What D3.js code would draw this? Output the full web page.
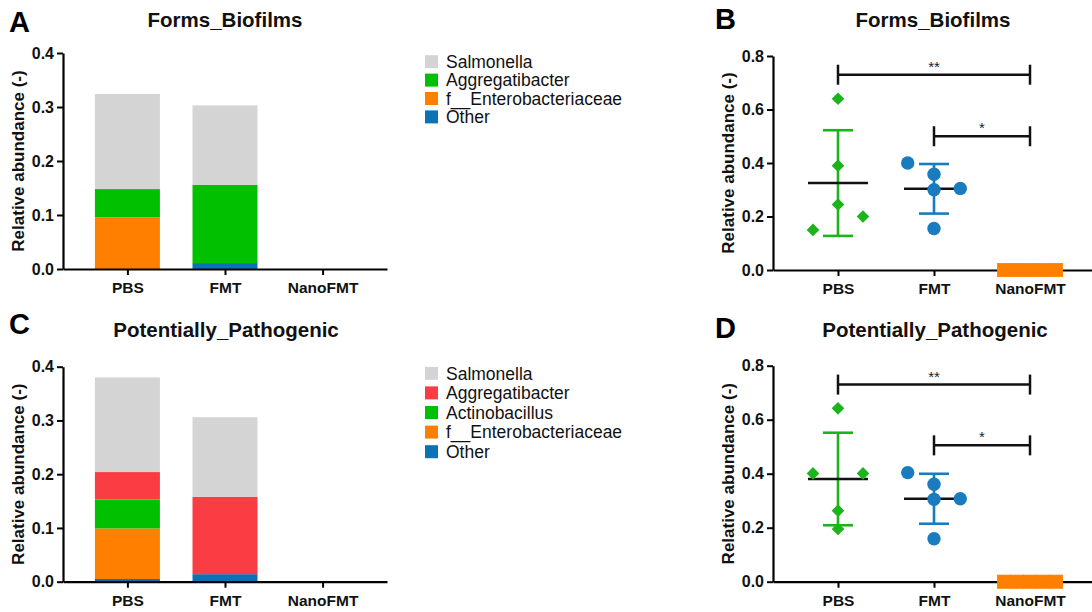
<!DOCTYPE html>
<html>
<head>
<meta charset="utf-8">
<script src="https://cdn.jsdelivr.net/npm/d3@7"></script>
<style>
  body { margin: 0; background: #fff; }
  svg { display: block; font-family: "Liberation Sans", Arial, sans-serif; }
</style>
</head>
<body>
<svg id="chart" width="1092" height="612"></svg>
<script>
const groups = ['PBS', 'FMT', 'NanoFMT'];

// Panel A - Forms_Biofilms, stacked mean abundance
const taxaA = ['Other', 'f__Enterobacteriaceae', 'Aggregatibacter', 'Salmonella'];
const aOther = [0, 0.011, 0];
const aEntero = [0.096, 0, 0];
const aAggregatibacter = [0.052, 0.145, 0];
const aSalmonella = [0.176, 0.147, 0];

// Panel C - Potentially_Pathogenic, stacked mean abundance
const taxaC = ['Other', 'f__Enterobacteriaceae', 'Actinobacillus', 'Aggregatibacter', 'Salmonella'];
const cOther = [0.005, 0.014, 0];
const cEntero = [0.094, 0, 0];
const cActinobacillus = [0.054, 0, 0];
const cAggregatibacter = [0.051, 0.144, 0];
const cSalmonella = [0.176, 0.148, 0];

// Panel B - Forms_Biofilms, per-sample values
const bPBS = [0.64, 0.39, 0.245, 0.20, 0.15];
const bFMT = [0.40, 0.358, 0.30, 0.305, 0.155];
const bNano = [0, 0, 0, 0, 0];

// Panel D - Potentially_Pathogenic, per-sample values
const dPBS = [0.642, 0.401, 0.401, 0.263, 0.195];
const dFMT = [0.404, 0.361, 0.305, 0.307, 0.159];
const dNano = [0, 0, 0, 0, 0];

// side-by-side spread of overlapping points (slot index)
const bSlotsPBS = [0, 0, 0, 1, -1];
const dSlotsPBS = [0, -1, 1, 0, 0];
const slotsFMT = [-1, 0, 0, 1, 0];
const slotsNano = [-2, -1, 0, 1, 2];

// significance brackets
const sigFrom = ['PBS', 'FMT'];
const sigTo = ['NanoFMT', 'NanoFMT'];
const sigLabels = ['**', '*'];
const bSigLevels = [0.73, 0.5];
const dSigLevels = [0.73, 0.505];

const ticksStack = [0, 0.1, 0.2, 0.3, 0.4];
const ticksDots = [0, 0.2, 0.4, 0.6, 0.8];

const taxColorsA = {
  'Salmonella': '#d4d4d4', 'Aggregatibacter': '#00c000',
  'f__Enterobacteriaceae': '#ff8000', 'Other': '#0c72b6'
};
const taxColorsC = {
  'Salmonella': '#d4d4d4', 'Aggregatibacter': '#fa3d43', 'Actinobacillus': '#00c000',
  'f__Enterobacteriaceae': '#ff8000', 'Other': '#0c72b6'
};
const groupColors = { PBS: '#1cb41c', FMT: '#1a7bbf', NanoFMT: '#ff8000' };

const FONT = '"Liberation Sans", Arial, sans-serif';
const svg = d3.select('#chart');

function styleAxis(g) {
  g.attr('font-family', FONT).attr('font-size', 16).attr('font-weight', 'bold');
  g.select('.domain').attr('stroke', '#000').attr('stroke-width', 2.2);
  g.selectAll('.tick line').attr('stroke', '#000').attr('stroke-width', 2);
  g.selectAll('.tick text').attr('fill', '#111');
}

function drawAxes(x, y, tickVals, xLeft) {
  const y0 = y(0);
  svg.append('g')
    .attr('transform', `translate(0,${y0})`)
    .call(d3.axisBottom(x).tickSize(6).tickSizeOuter(0))
    .call(styleAxis)
    .call(g => g.selectAll('.tick text').attr('y', 13).attr('font-size', 15.5));

  svg.append('g')
    .attr('transform', `translate(${xLeft},0)`)
    .call(d3.axisLeft(y).tickValues(tickVals).tickFormat(d3.format('.1f')).tickSize(6).tickSizeOuter(0))
    .call(styleAxis);

  const yMid = (y.range()[0] + y.range()[1]) / 2;
  svg.append('text')
    .attr('transform', `translate(${xLeft - 39},${yMid}) rotate(-90)`)
    .attr('text-anchor', 'middle')
    .attr('font-size', 17).attr('font-weight', 'bold').attr('fill', '#111')
    .text('Relative abundance (-)');
}

function drawHeader(letter, lx, ly, title, tx, ty) {
  svg.append('text').attr('x', lx).attr('y', ly)
    .attr('font-size', 29).attr('font-weight', 'bold').attr('fill', '#000')
    .text(letter);
  svg.append('text').attr('x', tx).attr('y', ty)
    .attr('text-anchor', 'middle')
    .attr('font-size', 20.5).attr('font-weight', 'bold').attr('fill', '#111')
    .text(title);
}

function drawStack(opts) {
  const x = d3.scalePoint().domain(groups).range(opts.xRange).padding(0.66);
  const y = d3.scaleLinear().domain([0, 0.4]).range(opts.yRange);
  const rows = groups.map((g, i) => {
    const r = { group: g };
    opts.taxa.forEach(t => { r[t] = opts.values[t][i]; });
    return r;
  });
  const series = d3.stack().keys(opts.taxa)(rows);
  const barW = 65;

  series.forEach(s => {
    svg.append('g').attr('fill', opts.colors[s.key])
      .selectAll('rect')
      .data(s)
      .join('rect')
      .attr('x', d => x(d.data.group) - barW / 2)
      .attr('y', d => y(d[1]))
      .attr('width', barW)
      .attr('height', d => Math.max(0, y(d[0]) - y(d[1])));
  });

  drawAxes(x, y, ticksStack, opts.xRange[0]);

  // legend, top entry = top of stack
  const legendTaxa = opts.taxa.slice().reverse();
  const lg = svg.append('g');
  legendTaxa.forEach((t, i) => {
    const cy = opts.legendTop + i * opts.legendStep;
    lg.append('rect').attr('x', 425).attr('y', cy - 6.5)
      .attr('width', 13).attr('height', 13).attr('fill', opts.colors[t]);
    lg.append('text').attr('x', 446).attr('y', cy + 6.3)
      .attr('font-size', 17.5).attr('fill', '#111')
      .text(t);
  });
}

function drawDots(opts) {
  const x = d3.scalePoint().domain(groups).range(opts.xRange).padding(0.677);
  const y = d3.scaleLinear().domain([0, 0.8]).range(opts.yRange);

  drawAxes(x, y, ticksDots, opts.xRange[0]);

  // significance brackets
  sigLabels.forEach((lab, i) => {
    const x1 = x(sigFrom[i]), x2 = x(sigTo[i]), yy = y(opts.sigLevels[i]);
    const g = svg.append('g').attr('stroke', '#111').attr('stroke-width', 2.5);
    g.append('line').attr('x1', x1).attr('x2', x2).attr('y1', yy).attr('y2', yy);
    g.append('line').attr('x1', x1).attr('x2', x1).attr('y1', yy - 10).attr('y2', yy + 10);
    g.append('line').attr('x1', x2).attr('x2', x2).attr('y1', yy - 10).attr('y2', yy + 10);
    svg.append('text').attr('x', (x1 + x2) / 2).attr('y', yy - 3)
      .attr('text-anchor', 'middle').attr('font-size', 15).attr('fill', '#222')
      .text(lab);
  });

  groups.forEach((grp, gi) => {
    const vals = opts.values[gi];
    const cx = x(grp);
    const col = groupColors[grp];
    const m = d3.mean(vals);
    const sd = d3.deviation(vals);

    // mean ± SD
    if (sd > 0) {
      const e = svg.append('g').attr('stroke', col).attr('stroke-width', 2.6);
      e.append('line').attr('x1', cx).attr('x2', cx).attr('y1', y(m + sd)).attr('y2', y(m - sd));
      e.append('line').attr('x1', cx - 15).attr('x2', cx + 15).attr('y1', y(m + sd)).attr('y2', y(m + sd));
      e.append('line').attr('x1', cx - 15).attr('x2', cx + 15).attr('y1', y(m - sd)).attr('y2', y(m - sd));
    }
    svg.append('line').attr('x1', cx - 30).attr('x2', cx + 30)
      .attr('y1', y(m)).attr('y2', y(m))
      .attr('stroke', '#111').attr('stroke-width', 2.6);

    const slots = opts.slots[gi];
    const pts = svg.append('g').attr('fill', col);
    vals.forEach((v, i) => {
      const px = cx + slots[i] * opts.slotW[gi];
      const py = y(v);
      if (grp === 'PBS') {
        pts.append('path')
          .attr('d', d3.symbol(d3.symbolSquare, 80)())
          .attr('transform', `translate(${px},${py}) rotate(45)`);
      } else if (grp === 'FMT') {
        pts.append('circle').attr('cx', px).attr('cy', py).attr('r', 6.7);
      } else {
        pts.append('rect').attr('x', px - 6.6).attr('y', py - 6.6)
          .attr('width', 13.2).attr('height', 13.2)
          .attr('stroke', col).attr('stroke-width', 0.8);
      }
    });
  });
}

// A
drawHeader('A', 9, 32, 'Forms_Biofilms', 225, 27);
drawStack({
  taxa: taxaA,
  values: { 'Other': aOther, 'f__Enterobacteriaceae': aEntero, 'Aggregatibacter': aAggregatibacter, 'Salmonella': aSalmonella },
  colors: taxColorsA,
  xRange: [63, 387], yRange: [269, 53],
  legendTop: 61.7, legendStep: 18.4
});

// C
drawHeader('C', 9, 334, 'Potentially_Pathogenic', 226, 337);
drawStack({
  taxa: taxaC,
  values: { 'Other': cOther, 'f__Enterobacteriaceae': cEntero, 'Actinobacillus': cActinobacillus, 'Aggregatibacter': cAggregatibacter, 'Salmonella': cSalmonella },
  colors: taxColorsC,
  xRange: [63, 387], yRange: [581.7, 366.7],
  legendTop: 373.3, legendStep: 19.6
});

// B
drawHeader('B', 715, 29, 'Forms_Biofilms', 933, 27);
drawDots({
  values: [bPBS, bFMT, bNano],
  slots: [bSlotsPBS, slotsFMT, slotsNano],
  slotW: [25, 26.3, 13],
  sigLevels: bSigLevels,
  xRange: [773, 1095], yRange: [270, 56]
});

// D
drawHeader('D', 715, 338, 'Potentially_Pathogenic', 935, 337);
drawDots({
  values: [dPBS, dFMT, dNano],
  slots: [dSlotsPBS, slotsFMT, slotsNano],
  slotW: [25, 26.3, 13],
  sigLevels: dSigLevels,
  xRange: [773, 1095], yRange: [581.7, 365.7]
});
</script>
</body>
</html>
